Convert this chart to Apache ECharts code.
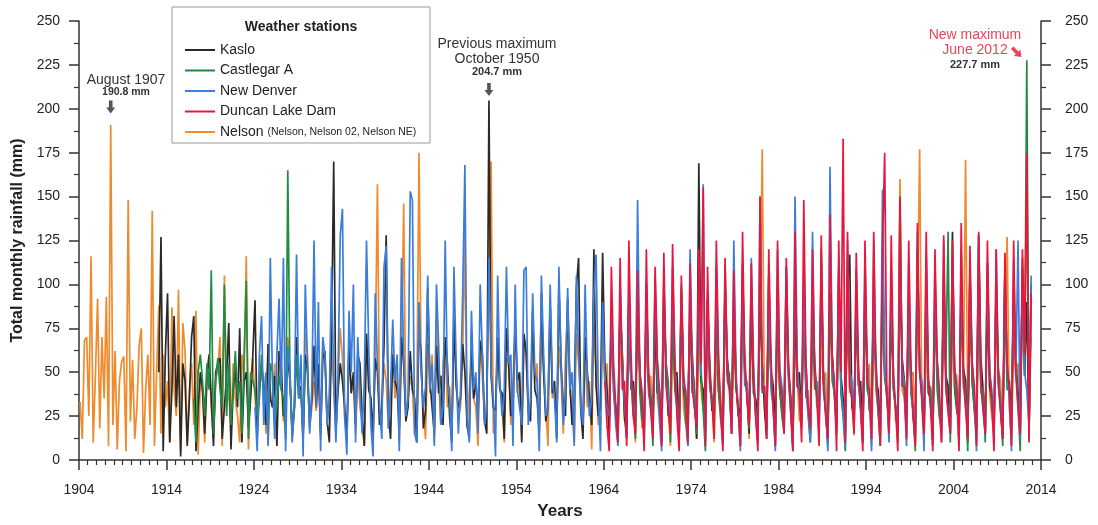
<!DOCTYPE html>
<html>
<head>
<meta charset="utf-8">
<script src="https://cdn.jsdelivr.net/npm/echarts@6/dist/echarts.min.js"></script>
<style>
html,body{margin:0;padding:0;background:#fff;}
#chart{width:1098px;height:525px;}
</style>
</head>
<body>
<div id="chart"></div>
<script>
// ---- Data (quarterly readings: Feb, May, Aug, Nov of each year) ----
const baseYear = 1904;
const xTickLabels = [1904, 1914, 1924, 1934, 1944, 1954, 1964, 1974, 1984, 1994, 2004, 2014];
const yTickLabels = [0, 25, 50, 75, 100, 125, 150, 175, 200, 225, 250];
const stationNames = ['Kaslo', 'Castlegar A', 'New Denver', 'Duncan Lake Dam', 'Nelson'];

const nelsonStart = 1904;
const nelson = [
  33,12,68,70, 25,116,10,48, 92,18,70,35, 93,8,190.8,20, 62,6,45,56,
  59,5,148,22, 57,12,30,65, 75,4,40,60, 20,142,8,50, 88,15,60,30,
  45,10,87,40, 25,97,5,78, 62,10,40,55, 20,85,3,45, 38,10,50,60,
  30,12,45,52, 70,8,105,30, 40,14,55,35, 25,10,60,48, 116,6,42,58,
  35,20,50,45, 48,15,66,40, 30,55,8,62, 45,22,35,70, 50,12,28,58,
  35,40,10,72, 60,18,30,45, 28,50,12,66, 55,20,38,60, 42,15,48,75,
  58,25,10,64, 38,45,15,52, 30,22,8,70, 48,35,12,60, 157,20,30,55,
  45,18,40,62, 35,50,10,58, 146,25,35,48, 40,15,30,175, 52,28,12,66,
  38,60,10,80, 45,20,55,70, 30,42,14,85, 50,25,30,60, 128,18,40,55,
  35,30,8,68, 48,22,35,95, 170,15,28,62, 40,35,10,58, 55,20,45,75,
  38,48,12,66, 60,25,30,80, 45,55,15,70, 52,30,8,90, 35,40,20,65,
  48,15,60,85, 40,28,10,72, 55,35,22,60, 30,45,6,78, 50,20,35,68,
  42,55,15,75, 38,30,12,62, 60,22,40,70, 45,35,10,88, 52,18,30,65,
  40,48,14,72, 35,25,20,80, 58,30,8,66, 45,40,22,75, 30,20,35,85,
  50,45,12,70, 40,28,25,90, 55,35,10,62, 38,22,40,78, 48,50,15,66,
  42,30,28,95, 60,40,12,72, 45,25,35,80, 177,30,18,65, 50,45,10,85,
  40,28,30,70, 55,38,15,60, 48,22,25,88, 35,40,12,75, 52,30,28,68,
  45,50,10,82, 60,35,22,95, 40,25,30,78, 38,45,14,70, 50,30,20,85,
  42,55,8,66, 58,28,35,90, 45,40,12,80, 52,22,30,160, 40,35,15,72,
  48,50,25,88, 177,30,10,65, 38,42,28,75, 55,25,12,82, 45,35,20,70,
  50,48,15,85, 40,171,22,68, 58,30,10,78, 45,40,28,90, 38,25,15,72,
  52,45,20,80, 127,30,12,66, 48,55,25,85, 60,162,20,70
];

const kasloStart = 1913;
const kaslo = [
  50,127,5,60, 95,10,40,82, 30,60,2,55, 45,8,35,70, 82,5,30,50,
  40,15,45,60, 35,8,50,55, 58,12,30,48, 78,6,40,52, 30,75,10,45,
  50,18,35,60, 91,12,40,55, 42,20,66,35, 30,48,8,62, 55,25,40,58,
  45,15,30,70, 38,42,12,60, 50,20,35,65, 30,55,15,58, 62,22,10,70,
  170,18,40,55, 45,30,12,66, 38,50,20,60, 55,25,8,72, 40,35,15,58,
  50,20,30,65, 128,28,12,60, 45,40,18,70, 55,22,30,62, 40,35,10,75,
  60,18,28,98, 45,30,15,65, 38,48,20,70, 55,25,10,80, 42,30,35,66,
  50,20,12,72, 35,45,25,68, 60,22,15,204.7, 48,30,28,70, 40,38,12,75,
  55,25,30,80, 45,50,10,72, 62,28,22,85, 40,35,15,95, 50,22,30,88,
  38,45,12,100, 55,30,25,92, 45,20,35,98, 115,28,12,70, 50,35,20,120,
  42,25,30,118, 55,40,15,80, 45,30,22,88, 60,25,12,92, 40,45,30,85,
  52,28,15,100, 45,35,22,78, 38,40,10,90, 55,25,30,82, 48,50,15,95,
  40,30,25,88, 60,35,12,169, 45,40,20,92, 52,28,35,85, 40,30,12,100,
  58,45,22,90, 45,25,30,112, 50,40,15,95, 38,35,25,88, 55,30,12,105,
  48,42,20,92, 40,28,30,110, 52,35,8,85, 45,50,22,98, 38,30,15,90,
  55,38,28,102, 45,25,12,95, 60,40,20,108, 48,35,15,100, 117,30,25,92,
  42,45,10,88, 55,28,30,95, 45,40,12,118, 50,35,22,90, 40,30,15,105,
  58,45,28,92, 45,25,10,120, 52,40,20,95, 38,35,12,88, 55,30,25,100,
  48,42,15,130, 40,28,22,95, 52,45,10,105, 45,30,28,128, 58,40,15,92,
  42,35,20,100, 50,28,12,110, 45,45,25,95, 55,38,18,108, 48,90,15,100
];

const castlegarEarlyStart = 1917;
const castlegarEarly = [
  35,10,50,60, 45,25,55,40, 108,15,45,58, 40,30,100,25, 55,20,40,62,
  35,45,15,58, 102,12,50,45, 40,25,35,60, 30,45,10,55, 50,20,30,48,
  40,35,12,165, 45,20,30,60, 35,40,15,55
];
const castlegarLateStart = 1965;
const castlegarLate = [
  40,25,10,85, 55,30,18,92, 45,40,12,100, 38,22,28,88, 50,35,8,95,
  42,28,20,105, 55,45,10,90, 40,30,25,98, 48,22,8,85, 38,40,15,100,
  52,28,5,92, 45,35,20,88, 40,25,10,110, 55,45,15,95, 42,30,8,90,
  50,38,18,100, 45,28,10,115, 38,42,20,92, 52,30,8,98, 40,25,15,90,
  48,35,5,105, 42,40,18,95, 55,28,10,88, 40,45,20,120, 50,30,8,92,
  45,38,15,100, 38,25,5,110, 52,42,18,95, 45,30,10,105, 40,35,20,90,
  55,28,8,112, 48,40,15,98, 42,30,10,148, 50,45,20,95, 38,28,5,110,
  52,35,15,100, 45,40,8,92, 40,25,18,105, 55,130,10,98, 42,30,20,95,
  50,38,5,108, 45,28,15,100, 38,42,10,112, 52,30,20,95, 45,35,8,105,
  40,40,15,98, 55,30,5,115, 48,227.7,12,100
];

const newDenverStart = 1924;
const newDenver = [
  30,5,60,82, 20,50,8,115, 45,12,60,92, 40,115,5,65, 50,10,30,117,
  35,60,2,100, 55,15,40,125, 30,90,5,70, 60,20,35,110, 45,10,50,128,
  143,25,3,85, 50,100,10,70, 40,15,45,125, 65,20,2,95, 55,30,12,110,
  122,18,40,80, 45,60,5,115, 60,25,35,153, 148,15,10,90, 50,30,42,105,
  40,55,8,100, 65,20,30,125, 45,35,5,110, 55,15,40,95, 168,25,10,85,
  40,50,15,100, 60,20,30,115, 50,35,2,105, 45,25,40,110, 55,60,8,100,
  40,30,20,108, 110,20,35,95, 50,45,5,105, 60,25,30,100, 45,35,10,110,
  55,20,40,98, 40,50,8,105, 60,30,20,100, 45,25,35,95, 117,40,5,90,
  50,30,25,85, 40,20,8,100, 55,35,15,90, 45,25,30,148, 50,40,10,95,
  38,30,20,105, 55,22,5,98, 45,35,25,110, 60,28,12,100, 42,40,8,120,
  55,30,20,105, 48,157,10,95, 40,35,25,110, 55,28,8,100, 45,40,15,125,
  50,30,5,108, 42,45,20,115, 55,25,10,150, 48,38,22,105, 40,30,5,120,
  52,42,15,110, 45,28,8,150, 55,35,20,105, 40,25,10,130, 50,40,15,112,
  45,30,5,167, 55,38,18,110, 42,28,8,125, 50,45,20,108, 45,30,12,115,
  55,35,5,125, 40,28,15,154, 52,40,10,110, 45,30,20,120, 55,38,8,112,
  42,28,15,130, 50,45,5,118, 45,30,20,110, 55,35,10,125, 40,28,15,115,
  52,42,8,120, 45,30,20,110, 55,38,5,128, 42,28,15,112, 50,40,10,120,
  45,30,18,108, 55,35,5,115, 48,125,12,110, 50,40,20,105
];

const duncanStart = 1964;
const duncan = [
  45,20,5,110, 55,30,10,115, 40,45,8,125, 60,25,15,108, 50,35,5,120,
  45,28,12,110, 58,40,8,118, 42,30,15,123, 55,25,5,105, 48,38,10,112,
  40,30,18,120, 55,155,8,110, 45,35,12,125, 60,28,5,115, 50,40,15,108,
  42,30,8,130, 55,35,20,112, 48,25,5,150, 40,42,12,120, 58,30,8,125,
  45,38,15,115, 52,28,5,130, 42,40,10,148, 55,30,18,120, 48,35,8,128,
  40,28,12,140, 58,45,5,125, 50,183,10,130, 42,35,15,118, 55,28,5,125,
  45,40,12,130, 52,30,8,120, 175,38,15,128, 48,30,5,150, 42,42,12,125,
  55,28,8,135, 50,35,15,130, 45,30,5,120, 58,40,10,128, 42,28,15,125,
  52,38,5,135, 48,30,12,122, 55,42,8,130, 45,30,15,125, 50,35,5,120,
  42,28,12,118, 55,40,8,125, 48,30,15,120, 60,175,10,95
];

// ---- Build points on the x axis (years since 1904) ----
const quarterOffsets = [0.125, 0.375, 0.625, 0.875];
function toPoints(startYear, values) {
  return values.map(function (v, i) {
    return [startYear - baseYear + Math.floor(i / 4) + quarterOffsets[i % 4], v];
  });
}
const castlegarPoints = toPoints(castlegarEarlyStart, castlegarEarly)
  .concat([[1930 - baseYear, null]])
  .concat(toPoints(castlegarLateStart, castlegarLate));

const colors = {
  'Kaslo': '#2a2a2a',
  'Castlegar A': '#218b45',
  'New Denver': '#3a7ddb',
  'Duncan Lake Dam': '#e8163e',
  'Nelson': '#f08a2c'
};
const FONT = '"Liberation Sans", Arial, sans-serif';
const arrowPath = 'path://M3,0 L7,0 L7,7 L10,7 L5,13 L0,7 L3,7 Z';

function lineSeries(name, data, markData) {
  const s = {
    name: name,
    type: 'line',
    data: data,
    symbol: 'none',
    connectNulls: false,
    lineStyle: { width: 1.7, color: colors[name] },
    itemStyle: { color: colors[name] },
    animation: false
  };
  if (markData) {
    s.markPoint = { data: markData, label: { show: false }, animation: false, silent: true };
  }
  return s;
}

const chart = echarts.init(document.getElementById('chart'), null, { renderer: 'canvas' });

const axisLineStyle = { color: '#333', width: 1.5 };

chart.setOption({
  animation: false,
  backgroundColor: '#fff',
  textStyle: { fontFamily: FONT },
  grid: { left: 79, right: 57, top: 21, bottom: 64, containLabel: false },
  legend: {
    data: stationNames,
    orient: 'vertical',
    left: 180,
    top: 37,
    itemGap: 4.5,
    itemWidth: 30,
    itemHeight: 16,
    icon: 'path://M0,0 L30,0 L30,2 L0,2 Z',
    textStyle: {
      fontFamily: FONT, fontSize: 14, color: '#222', lineHeight: 16,
      rich: { s: { fontSize: 10.5, fontFamily: FONT, color: '#222' } }
    },
    formatter: function (name) {
      return name === 'Nelson' ? 'Nelson {s|(Nelson, Nelson 02, Nelson NE)}' : name;
    },
    selectedMode: false
  },
  xAxis: {
    type: 'value',
    min: 0,
    max: 110,
    interval: 10,
    name: 'Years',
    nameLocation: 'middle',
    nameGap: 43,
    nameTextStyle: { fontFamily: FONT, fontSize: 17, fontWeight: 'bold', color: '#222' },
    axisLine: { show: true, onZero: false, lineStyle: axisLineStyle },
    axisTick: { show: true, length: 10, lineStyle: axisLineStyle },
    minorTick: { show: true, splitNumber: 10, length: 5, lineStyle: { color: '#333', width: 1.2 } },
    splitLine: { show: false },
    axisLabel: {
      margin: 23, fontSize: 14, color: '#222', fontFamily: FONT,
      formatter: function (v) { return String(xTickLabels[Math.round(v / 10)]); }
    }
  },
  yAxis: [
    {
      type: 'value', min: 0, max: 250, interval: 25, position: 'left',
      name: 'Total monthly rainfall (mm)',
      nameLocation: 'middle',
      nameGap: 47,
      nameTextStyle: { fontFamily: FONT, fontSize: 16, fontWeight: 'bold', color: '#222' },
      axisLine: { show: true, lineStyle: axisLineStyle },
      axisTick: { show: true, length: 10, lineStyle: axisLineStyle },
      minorTick: { show: true, splitNumber: 2, length: 5, lineStyle: { color: '#333', width: 1.2 } },
      splitLine: { show: false },
      axisLabel: {
        margin: 19, fontSize: 14, color: '#222', fontFamily: FONT,
        formatter: function (v) { return String(yTickLabels[Math.round(v / 25)]); }
      }
    },
    {
      type: 'value', min: 0, max: 250, interval: 25, position: 'right',
      axisLine: { show: true, lineStyle: axisLineStyle },
      axisTick: { show: true, length: 10, lineStyle: axisLineStyle },
      minorTick: { show: true, splitNumber: 2, length: 5, lineStyle: { color: '#333', width: 1.2 } },
      splitLine: { show: false },
      axisLabel: {
        margin: 24, fontSize: 14, color: '#222', fontFamily: FONT,
        formatter: function (v) { return String(yTickLabels[Math.round(v / 25)]); }
      }
    }
  ],
  series: [
    lineSeries('Nelson', toPoints(nelsonStart, nelson), [
      { coord: [1907.625 - baseYear, 201], symbol: arrowPath, symbolSize: [9, 13], itemStyle: { color: '#555' } }
    ]),
    lineSeries('Kaslo', toPoints(kasloStart, kaslo), [
      { coord: [1950.875 - baseYear, 211], symbol: arrowPath, symbolSize: [9, 13], itemStyle: { color: '#555' } }
    ]),
    lineSeries('Castlegar A', castlegarPoints, [
      { coord: [2012.375 - baseYear, 231], symbol: arrowPath, symbolSize: [9, 13], symbolRotate: 45,
        symbolOffset: [-10, -2], itemStyle: { color: '#e8455a' } }
    ]),
    lineSeries('New Denver', toPoints(newDenverStart, newDenver)),
    lineSeries('Duncan Lake Dam', toPoints(duncanStart, duncan))
  ],
  graphic: [
    { type: 'rect', z: 1, shape: { x: 172, y: 7, width: 258, height: 136 },
      style: { fill: 'rgba(255,255,255,0)', stroke: '#9a9a9a', lineWidth: 1 } },
    { type: 'text', x: 301, y: 27, style: { text: 'Weather stations', textAlign: 'center', textVerticalAlign: 'middle',
      fontFamily: FONT, fontSize: 14, fontWeight: 'bold', fill: '#222' } },
    { type: 'text', x: 126, y: 80, style: { text: 'August 1907', textAlign: 'center', textVerticalAlign: 'middle',
      fontFamily: FONT, fontSize: 14, fill: '#333' } },
    { type: 'text', x: 126, y: 92, style: { text: '190.8 mm', textAlign: 'center', textVerticalAlign: 'middle',
      fontFamily: FONT, fontSize: 10.5, fontWeight: 'bold', fill: '#333' } },
    { type: 'text', x: 497, y: 44, style: { text: 'Previous maximum', textAlign: 'center', textVerticalAlign: 'middle',
      fontFamily: FONT, fontSize: 14, fill: '#333' } },
    { type: 'text', x: 497, y: 59, style: { text: 'October 1950', textAlign: 'center', textVerticalAlign: 'middle',
      fontFamily: FONT, fontSize: 14, fill: '#333' } },
    { type: 'text', x: 497, y: 72, style: { text: '204.7 mm', textAlign: 'center', textVerticalAlign: 'middle',
      fontFamily: FONT, fontSize: 11, fontWeight: 'bold', fill: '#333' } },
    { type: 'text', x: 975, y: 35, style: { text: 'New maximum', textAlign: 'center', textVerticalAlign: 'middle',
      fontFamily: FONT, fontSize: 14, fill: '#e8455a' } },
    { type: 'text', x: 975, y: 50, style: { text: 'June 2012', textAlign: 'center', textVerticalAlign: 'middle',
      fontFamily: FONT, fontSize: 14, fill: '#e8455a' } },
    { type: 'text', x: 975, y: 65, style: { text: '227.7 mm', textAlign: 'center', textVerticalAlign: 'middle',
      fontFamily: FONT, fontSize: 11, fontWeight: 'bold', fill: '#333' } }
  ]
});
</script>
</body>
</html>
